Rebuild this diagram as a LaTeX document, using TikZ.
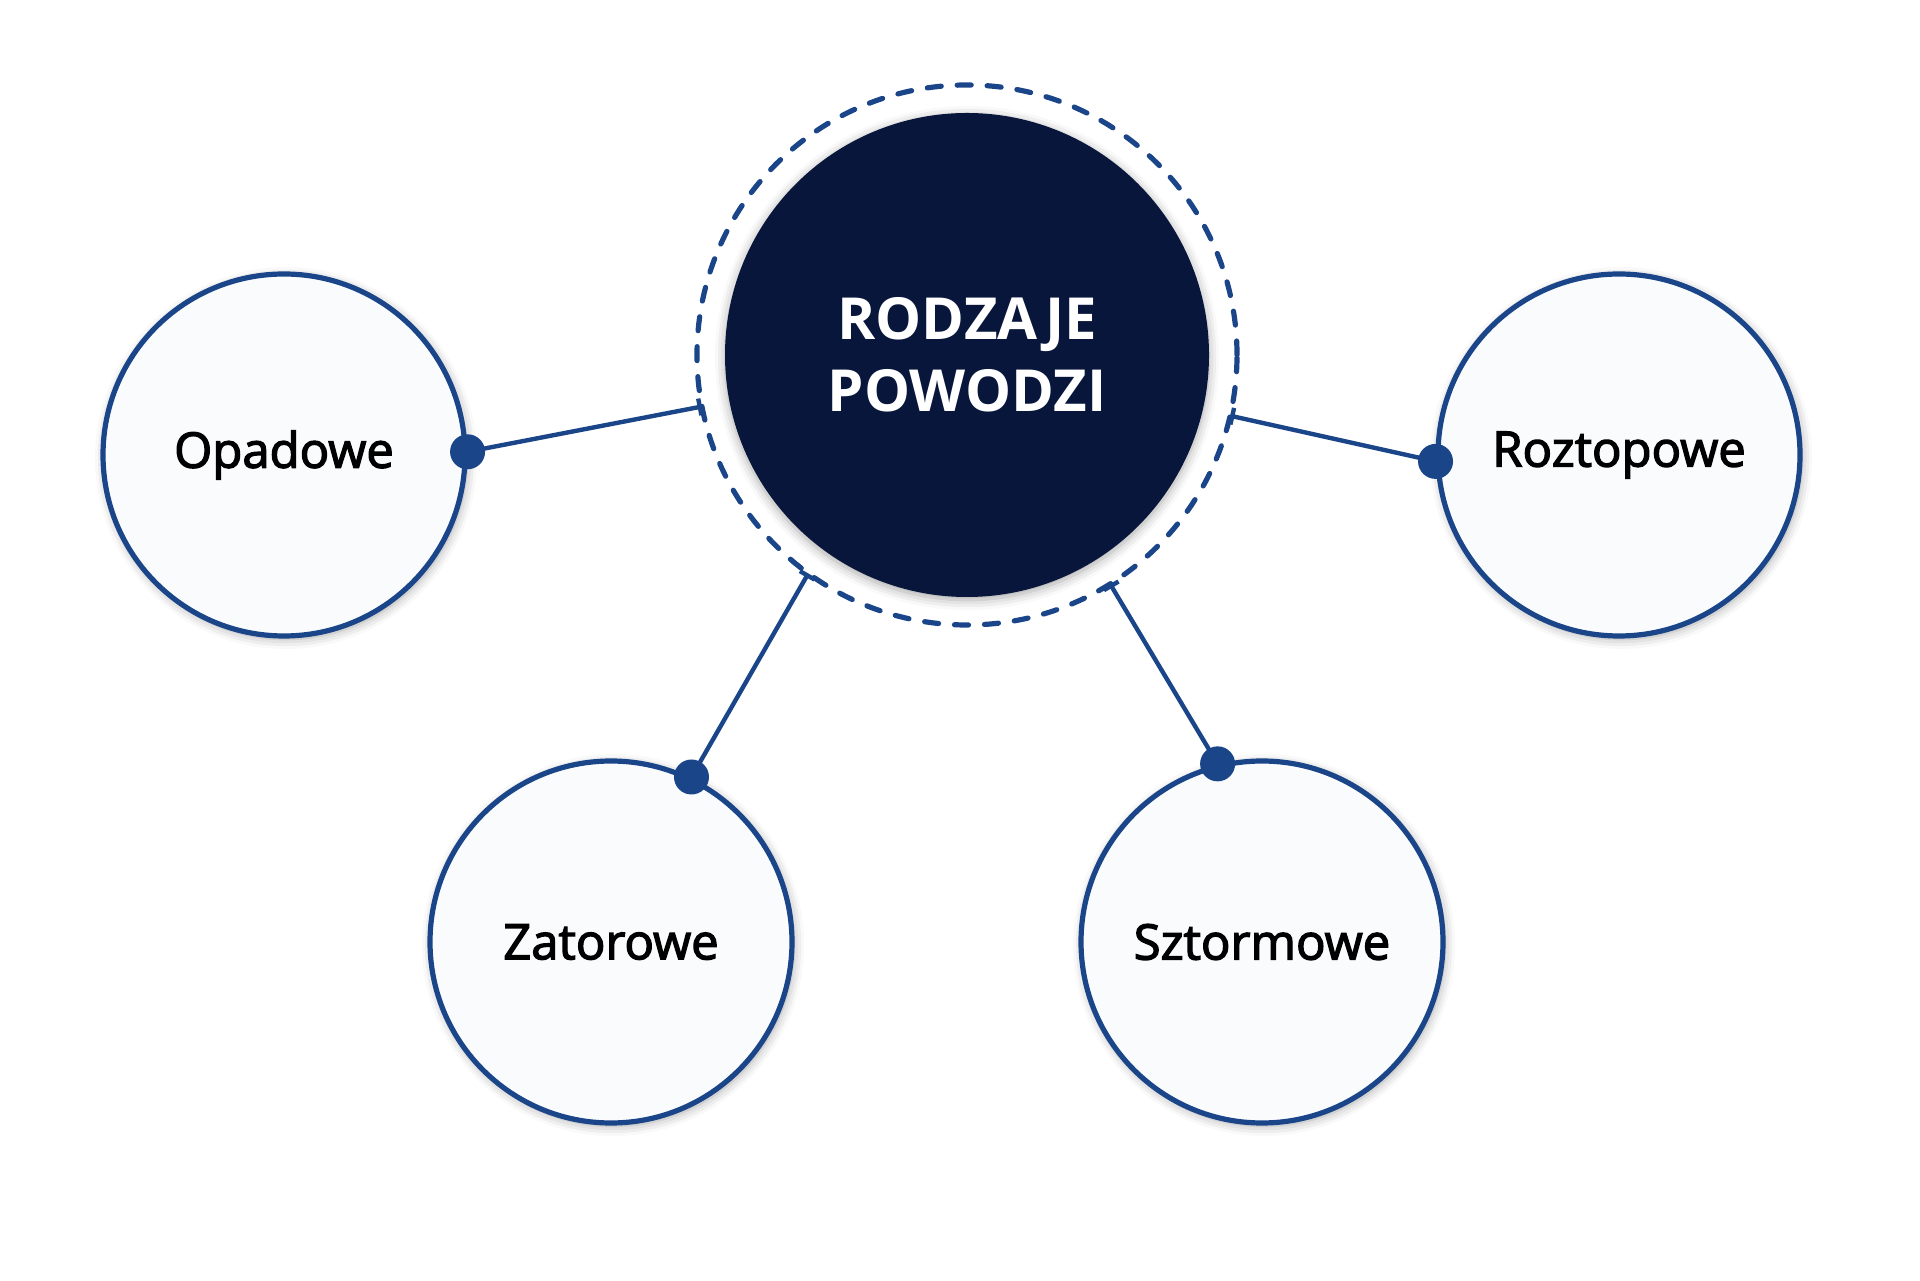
\documentclass[tikz,border=0pt]{standalone}
\usepackage{fontspec}
\setmainfont{Open Sans}
\newfontfamily\semibold{Open Sans}[FakeBold=2.6]
\usetikzlibrary{arrows.meta, shadows.blur}
\definecolor{navy}{HTML}{08163B}
\definecolor{ringblue}{HTML}{1B4589}
\definecolor{paleblue}{HTML}{F9FBFD}

\begin{document}
\begin{tikzpicture}[x=0.5pt, y=0.5pt,
    every node/.style = {circle},
    outer/.style = {draw=ringblue, line width=2.6pt, fill=paleblue, minimum size=181pt,
        font=\semibold\fontsize{24.5}{28}\selectfont,
        blur shadow={shadow xshift=1pt, shadow yshift=-1.5pt, shadow blur radius=5pt, shadow opacity=35}},
    centre/.style = {fill=navy, minimum size=242pt, text=white, align=center,
        font=\bfseries\fontsize{29}{36}\selectfont,
        blur shadow={shadow xshift=0pt, shadow yshift=-1.5pt, shadow blur radius=5pt, shadow opacity=35}},
    ring/.style = {draw=ringblue, line width=2.6pt, line cap=round, dash pattern=on 7pt off 8pt,
        minimum size=270pt, outer sep=0pt},
    dot/.style = {fill=ringblue, inner sep=0pt, minimum size=17.5pt},
    link/.style = {draw=ringblue, line width=2.2pt, -{Bar[width=8.5pt, line width=2.2pt]}}
    ]
    \useasboundingbox (0,0) rectangle (1920,1280);
    \node[ring] (ring) at (967,925) {};
    \node[centre] (main) at (967,925) {RODZAJE\\POWODZI};
    \node[outer] (op) at (284,825) {Opadowe};
    \node[outer] (rz) at (1619,825) {Roztopowe};
    \node[outer] (zt) at (611,338) {Zatorowe};
    \node[outer] (sz) at (1262,338) {Sztormowe};
    % connectors to the ring
    \foreach \n/\a/\b in {op/1.5/191, rz/182/347.4, zt/64/234.1, sz/104.5/302.2} {
        \draw[link] (\n.\a) -- (ring.\b);
        \node[dot] at (\n.\a) {};
    }
\end{tikzpicture}
\end{document}
